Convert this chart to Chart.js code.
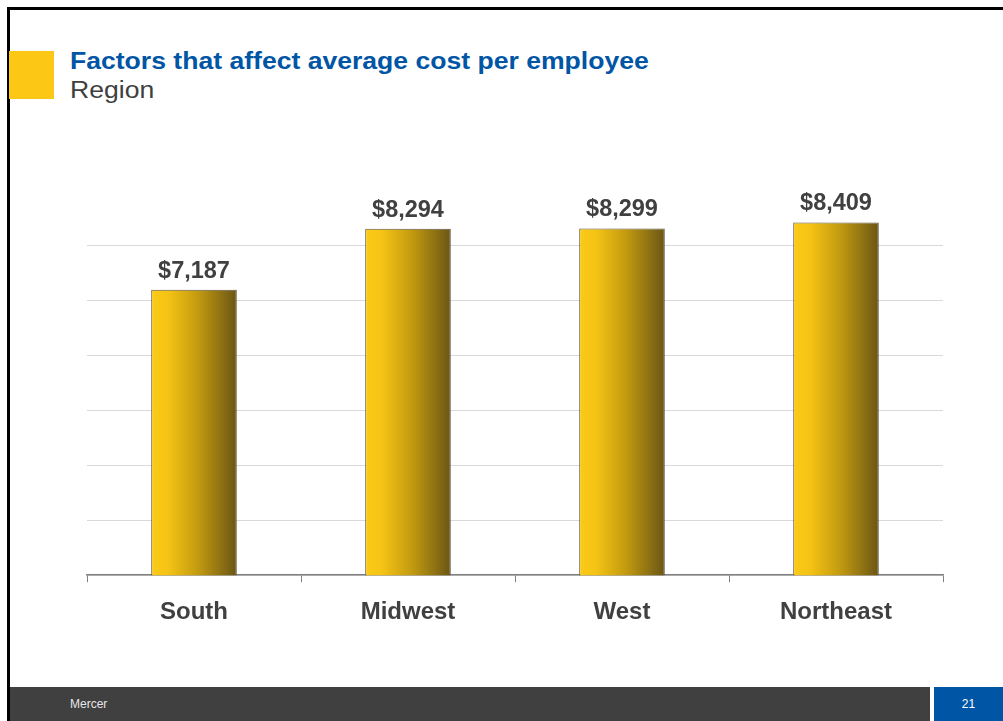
<!DOCTYPE html>
<html lang="en">
<head>
    <meta charset="UTF-8">
    <title>Factors that affect average cost per employee</title>
    <script src="https://cdn.jsdelivr.net/npm/chart.js"></script>
    <style>
        body { margin: 0; width: 1003px; height: 721px; position: relative; overflow: hidden; background: #fff; font-family: "Liberation Sans", Arial, sans-serif; }
        .frame-top { position: absolute; left: 7px; top: 7px; right: 0; height: 3px; background: #000; }
        .frame-left { position: absolute; left: 7px; top: 7px; width: 3px; bottom: 0; background: #000; }
        .badge { position: absolute; left: 9px; top: 51px; width: 45px; height: 48px; background: #fcc815; }
        .title, .subtitle { position: absolute; left: 70px; font-size: 23px; white-space: nowrap; transform: scaleX(1.155); transform-origin: left top; }
        .title { top: 48px; font-weight: bold; color: #0055a4; }
        .subtitle { top: 77px; color: #404040; }
        .chart-box { position: absolute; left: 0; top: 0; width: 1003px; height: 660px; }
        .footer { position: absolute; left: 10px; top: 687px; width: 920px; height: 34px; background: #404040; }
        .footer span { position: absolute; left: 60px; top: 10px; font-size: 12px; color: #e6e6e6; }
        .page { position: absolute; left: 934px; top: 687px; width: 69px; height: 34px; background: #0055a4; color: #fff; font-size: 12px; text-align: center; line-height: 34px; }
    </style>
</head>
<body>
    <div class="frame-top"></div>
    <div class="frame-left"></div>
    <div class="badge"></div>
    <div class="title">Factors that affect average cost per employee</div>
    <div class="subtitle">Region</div>
    <div class="chart-box"><canvas id="myChart"></canvas></div>
    <div class="footer"><span>Mercer</span></div>
    <div class="page">21</div>

    <script>
        // regions and average cost per employee
        const regions = ['South', 'Midwest', 'West', 'Northeast'];
        const avgCost = [7187, 8294, 8299, 8409];
        const yMin = 2000;
        const yMax = 9000;
        const yStep = 1000;

        const textColor = '#404040';
        const fontFamily = '"Liberation Sans", Arial, sans-serif';

        // horizontal yellow-to-olive fill for each bar
        function barFill(ctx) {
            const chart = ctx.chart;
            const xScale = chart.scales.x;
            if (!chart.chartArea || !xScale) return '#e0b416';
            const cx = xScale.getPixelForValue(ctx.dataIndex);
            const half = xScale.width / regions.length * 0.4 / 2;
            const g = chart.ctx.createLinearGradient(cx - half, 0, cx + half, 0);
            g.addColorStop(0, '#fccb18');
            g.addColorStop(0.2, '#f4c314');
            g.addColorStop(0.55, '#c29a10');
            g.addColorStop(1, '#6a5515');
            return g;
        }

        // value labels above bars
        const valueLabels = {
            id: 'valueLabels',
            afterDatasetsDraw(chart) {
                const c = chart.ctx;
                const meta = chart.getDatasetMeta(0);
                c.save();
                c.font = 'bold 23.5px ' + fontFamily;
                c.fillStyle = textColor;
                c.textAlign = 'center';
                c.textBaseline = 'bottom';
                meta.data.forEach((bar, i) => {
                    c.fillText('$' + avgCost[i].toLocaleString('en-US'), bar.x, bar.y - 7);
                });
                c.restore();
            }
        };

        var ctx = document.getElementById('myChart').getContext('2d');
        var myChart = new Chart(ctx, {
            type: 'bar',
            data: {
                labels: regions,
                datasets: [{
                    data: avgCost,
                    backgroundColor: barFill,
                    borderColor: '#5e5640',
                    borderWidth: 1,
                    borderSkipped: false,
                    categoryPercentage: 1,
                    barPercentage: 0.4
                }]
            },
            options: {
                responsive: true,
                maintainAspectRatio: false,
                animation: false,
                layout: { padding: { left: 87, right: 60, top: 190, bottom: 17 } },
                plugins: {
                    legend: { display: false },
                    tooltip: { enabled: false }
                },
                scales: {
                    y: {
                        min: yMin,
                        max: yMax,
                        ticks: { display: false, stepSize: yStep },
                        border: { display: false },
                        grid: {
                            color: (c) => c.tick && c.tick.value === yMax ? 'rgba(0,0,0,0)' : '#d9d9d9',
                            lineWidth: 1,
                            drawTicks: false
                        }
                    },
                    x: {
                        border: { display: true, color: '#808080', width: 1.5 },
                        grid: {
                            offset: true,
                            drawOnChartArea: false,
                            color: '#808080',
                            tickLength: 7
                        },
                        ticks: {
                            color: textColor,
                            padding: 16,
                            font: { family: fontFamily, size: 24, weight: 'bold' }
                        }
                    }
                }
            },
            plugins: [valueLabels]
        });
    </script>
</body>
</html>
